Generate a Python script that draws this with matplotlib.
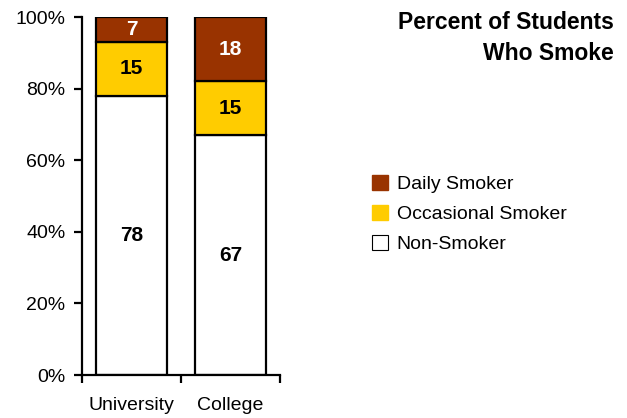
import matplotlib
matplotlib.use("Agg")
import matplotlib.pyplot as plt
from matplotlib.patches import Patch
import numpy as np

plt.rcParams['font.family'] = ['Liberation Sans', 'DejaVu Sans']

# данные
schools = ['University', 'College']
non_smoker = [78, 67]
occasional = [15, 15]
daily = [7, 18]

c_non = 'white'
c_occ = '#FFCC00'
c_daily = '#993300'

fig = plt.figure(figsize=(6.27, 4.18), dpi=100)
ax = fig.add_axes([82 / 627, 43 / 418, 198 / 627, 358 / 418])

x = np.arange(len(schools))
w = 0.72
b1 = ax.bar(x, non_smoker, w, color=c_non, edgecolor='black', linewidth=1.6)
b2 = ax.bar(x, occasional, w, bottom=non_smoker, color=c_occ, edgecolor='black', linewidth=1.6)
bottom3 = np.array(non_smoker) + np.array(occasional)
b3 = ax.bar(x, daily, w, bottom=bottom3, color=c_daily, edgecolor='black', linewidth=1.6)

# подписи в сегментах
ax.bar_label(b1, labels=[str(v) for v in non_smoker], label_type='center',
             fontsize=15, fontweight='bold', color='black')
ax.bar_label(b2, labels=[str(v) for v in occasional], label_type='center',
             fontsize=15, fontweight='bold', color='black')
ax.bar_label(b3, labels=[str(v) for v in daily], label_type='center',
             fontsize=15, fontweight='bold', color='white')

ax.set_xlim(-0.5, 1.5)
ax.set_ylim(0, 100)
ax.set_yticks(np.arange(0, 101, 20))
ax.set_yticklabels([f'{v}%' for v in range(0, 101, 20)], fontsize=14)
ax.set_xticks(x)
ax.set_xticklabels(schools, fontsize=14)
ax.set_xticks([-0.5, 0.5, 1.5], minor=True)
ax.tick_params(axis='x', which='major', length=0, pad=16)
ax.tick_params(axis='x', which='minor', length=6, width=1.6, direction='out')
ax.tick_params(axis='y', length=6, width=1.6, direction='out', pad=6)

for s in ['top', 'right']:
    ax.spines[s].set_visible(False)
for s in ['left', 'bottom']:
    ax.spines[s].set_linewidth(1.6)

# заголовок
fig.text(614 / 627, 1 - 11 / 418, 'Percent of Students\nWho Smoke', ha='right', va='top',
         fontsize=16.5, fontweight='bold', linespacing=1.45)

handles = [Patch(facecolor=c_daily, edgecolor=c_daily),
           Patch(facecolor=c_occ, edgecolor=c_occ),
           Patch(facecolor=c_non, edgecolor='black', linewidth=0.8)]
fig.legend(handles, ['Daily Smoker', 'Occasional Smoker', 'Non-Smoker'],
           loc='upper left', bbox_to_anchor=(372 / 627, 1 - 175 / 418),
           frameon=False, fontsize=14, handlelength=0.82, handleheight=0.82,
           handletextpad=0.45, labelspacing=0.6, borderpad=0, borderaxespad=0)

fig.savefig('out.png', dpi=100)
